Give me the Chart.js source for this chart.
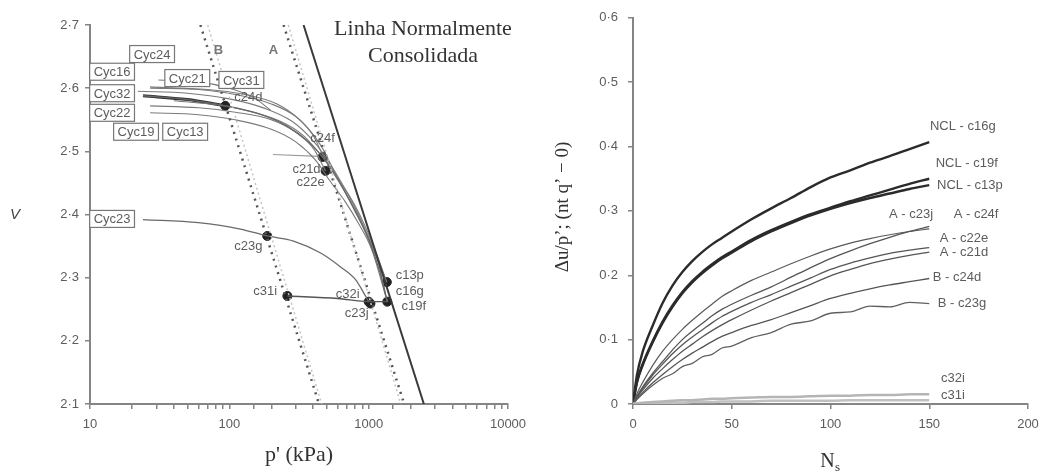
<!doctype html>
<html lang="pt">
<head>
<meta charset="utf-8">
<style>
  html, body { margin: 0; padding: 0; background: #fff; }
  #wrap { position: relative; width: 1048px; height: 475px; overflow: hidden; }
  #chartLeft { position: absolute; left: 0; top: 0; }
  #chartRight { position: absolute; left: 520px; top: 0; }
</style>
</head>
<body>
<div id="wrap">
  <canvas id="chartLeft" width="540" height="475"></canvas>
  <canvas id="chartRight" width="528" height="475"></canvas>
</div>
<script src="https://cdn.jsdelivr.net/npm/chart.js"></script>
<script>
// ---- left panel: v vs p' (log) ----
const nclLine = [[341, 2.7], [2490, 2.1]];
const lineA = [[245, 2.7], [1800, 2.1]];
const lineALight = [[265, 2.7], [1700, 2.1]];
const lineB = [[62, 2.7], [440, 2.1]];
const lineBLight = [[70, 2.7], [460, 2.1]];

const curve13 = [[27, 2.602], [60, 2.598], [110, 2.59], [200, 2.575], [300, 2.555], [400, 2.525], [467, 2.495], [600, 2.458], [780, 2.418], [950, 2.38], [1150, 2.335], [1350, 2.293]];
const curve32 = [[24, 2.588], [50, 2.582], [93.5, 2.572], [160, 2.56], [260, 2.54], [370, 2.515], [467, 2.491], [620, 2.45], [800, 2.405], [1000, 2.36], [1200, 2.31], [1360, 2.262]];
const curve21 = [[27, 2.572], [60, 2.569], [110, 2.562], [200, 2.55], [300, 2.53], [400, 2.505], [491, 2.469]];
const curve19 = [[27, 2.561], [60, 2.558], [110, 2.55], [200, 2.535], [300, 2.515], [420, 2.485], [520, 2.455], [680, 2.42], [850, 2.385], [1050, 2.345], [1360, 2.262]];
const curve31 = [[31, 2.613], [60, 2.61], [100, 2.6], [150, 2.585], [198, 2.565]];
const curve22 = [[27, 2.6], [70, 2.598], [130, 2.59], [220, 2.575], [320, 2.55], [420, 2.52], [480, 2.5], [560, 2.47], [700, 2.43], [900, 2.385], [1100, 2.34], [1350, 2.293]];
const curve24 = [[40, 2.58], [93.5, 2.572], [130, 2.565], [230, 2.548], [340, 2.525], [467, 2.491]];
const curve16 = [[22, 2.595], [50, 2.592], [100, 2.583], [180, 2.568], [280, 2.548], [380, 2.522], [480, 2.494], [620, 2.455], [780, 2.415], [950, 2.375], [1150, 2.33], [1360, 2.262]];
const thickStart = [[24, 2.588], [50, 2.582], [90, 2.573]];
const curve23 = [[24, 2.392], [60, 2.387], [120, 2.377], [187, 2.366], [289, 2.358], [452, 2.339], [629, 2.317], [805, 2.297], [921, 2.276], [1000, 2.262]];
const unload31 = [[261, 2.271], [600, 2.267], [1000, 2.262], [1360, 2.262]];
const unload22 = [[206, 2.495], [440, 2.492]];

const endPoints = [[93.5, 2.572], [467, 2.491], [491, 2.469], [187, 2.366], [261, 2.271], [1000, 2.262], [1030, 2.259], [1350, 2.293], [1360, 2.262]];

const pointLabels = [
  ['c24d', 137, 2.586], ['c24f', 467, 2.521], ['c21d', 358, 2.471], ['c22e', 383, 2.45],
  ['c23g', 137, 2.349], ['c31i', 181, 2.278], ['c32i', 706, 2.274], ['c23j', 820, 2.244],
  ['c13p', 1972, 2.304], ['c16g', 1972, 2.279], ['c19f', 2108, 2.254]
];
const boxLabels = [
  ['Cyc24', 27.9, 2.654], ['Cyc16', 14.4, 2.626], ['Cyc21', 49.9, 2.616], ['Cyc31', 122, 2.613],
  ['Cyc32', 14.4, 2.592], ['Cyc22', 14.4, 2.561], ['Cyc19', 21.4, 2.531], ['Cyc13', 48.2, 2.531],
  ['Cyc23', 14.4, 2.393]
];
const lineNames = [['B', 83.4, 2.66], ['A', 207, 2.66]];

// ---- right panel: du/p' vs Ns ----
const ns = [0, 2, 5, 10, 15, 20, 25, 30, 35, 40, 45, 50, 60, 70, 80, 90, 100, 110, 120, 130, 140, 150];
const c16g = [0, 0.045, 0.082, 0.122, 0.157, 0.184, 0.205, 0.222, 0.236, 0.248, 0.258, 0.268, 0.287, 0.304, 0.32, 0.337, 0.352, 0.363, 0.375, 0.385, 0.396, 0.407];
const c19f = [0, 0.035, 0.063, 0.098, 0.128, 0.153, 0.174, 0.191, 0.205, 0.217, 0.228, 0.237, 0.255, 0.27, 0.283, 0.295, 0.305, 0.315, 0.324, 0.333, 0.342, 0.35];
const c13p = [0, 0.033, 0.061, 0.096, 0.126, 0.151, 0.172, 0.189, 0.203, 0.215, 0.226, 0.235, 0.253, 0.268, 0.281, 0.293, 0.303, 0.312, 0.32, 0.327, 0.334, 0.34];
const c23j = [0, 0.016, 0.034, 0.06, 0.082, 0.1, 0.116, 0.13, 0.143, 0.155, 0.167, 0.176, 0.192, 0.205, 0.218, 0.23, 0.241, 0.25, 0.257, 0.263, 0.268, 0.272];
const c24f = [0, 0.012, 0.027, 0.048, 0.066, 0.084, 0.1, 0.113, 0.125, 0.137, 0.147, 0.155, 0.169, 0.182, 0.197, 0.212, 0.226, 0.238, 0.249, 0.259, 0.268, 0.276];
const c22e = [0, 0.011, 0.025, 0.045, 0.062, 0.078, 0.092, 0.104, 0.115, 0.126, 0.136, 0.144, 0.158, 0.17, 0.183, 0.196, 0.209, 0.219, 0.227, 0.234, 0.239, 0.243];
const c21d = [0, 0.01, 0.022, 0.04, 0.055, 0.069, 0.082, 0.093, 0.104, 0.114, 0.123, 0.131, 0.146, 0.16, 0.173, 0.186, 0.199, 0.209, 0.218, 0.225, 0.231, 0.236];
const c24d = [0, 0.008, 0.018, 0.033, 0.046, 0.058, 0.069, 0.079, 0.088, 0.097, 0.105, 0.111, 0.122, 0.131, 0.142, 0.153, 0.164, 0.172, 0.179, 0.185, 0.19, 0.195];
const c23g = [0, 0.007, 0.016, 0.029, 0.04, 0.047, 0.058, 0.063, 0.073, 0.077, 0.087, 0.09, 0.103, 0.111, 0.124, 0.129, 0.141, 0.143, 0.152, 0.151, 0.158, 0.156];
const c32i = [0, 0.001, 0.002, 0.003, 0.004, 0.005, 0.006, 0.006, 0.007, 0.008, 0.008, 0.009, 0.01, 0.011, 0.011, 0.012, 0.013, 0.013, 0.014, 0.014, 0.015, 0.015];
const c31i = [0, 0, 0.001, 0.001, 0.002, 0.002, 0.002, 0.003, 0.003, 0.003, 0.004, 0.004, 0.004, 0.005, 0.005, 0.005, 0.005, 0.006, 0.006, 0.006, 0.006, 0.006];

const seriesLabels = [
  ['NCL - c16g', 167, 0.431], ['NCL - c19f', 169, 0.373], ['NCL - c13p', 170.6, 0.34],
  ['A - c23j', 140.8, 0.295], ['A - c24f', 173.7, 0.295], ['A - c22e', 167.6, 0.258],
  ['A - c21d', 167.6, 0.236], ['B - c24d', 164, 0.196], ['B - c23g', 166.6, 0.157],
  ['c32i', 162, 0.04], ['c31i', 162, 0.014]
];

const GRAY = '#858585';
const TXT = '#5c5c5c';
const SANS = '"Liberation Sans", Arial, sans-serif';
const SERIF = '"Liberation Serif", "Times New Roman", serif';

function xy(arr) {
  return arr.map(([x, y]) => ({ x: x, y: y }));
}
function series(vals) {
  return ns.map((n, i) => ({ x: n, y: vals[i] }));
}
function dotted(v) {
  return v.toFixed(1).replace('.', '\u00b7');
}
function line(data, color, width, extra) {
  return Object.assign({ data: data, borderColor: color, borderWidth: width, showLine: true, pointRadius: 0, cubicInterpolationMode: 'monotone', fill: false }, extra || {});
}
function axis(size) {
  return {
    border: { display: true, color: GRAY, width: 2 },
    grid: { drawOnChartArea: false, drawTicks: true, tickLength: 5, color: GRAY, lineWidth: 1.5 },
    ticks: { color: TXT, font: { family: SANS, size: size }, maxRotation: 0, autoSkip: false }
  };
}

// left chart
const leftDecor = {
  id: 'leftDecor',
  afterDatasetsDraw(chart) {
    const { ctx, chartArea } = chart;
    const x = chart.scales.x, y = chart.scales.y;
    ctx.save();
    ctx.textAlign = 'center';
    ctx.textBaseline = 'middle';
    ctx.font = '13px ' + SANS;
    ctx.fillStyle = TXT;
    pointLabels.forEach(([t, p, v]) => ctx.fillText(t, x.getPixelForValue(p), y.getPixelForValue(v)));
    boxLabels.forEach(([t, p, v]) => {
      const px = x.getPixelForValue(p), py = y.getPixelForValue(v);
      const w = ctx.measureText(t).width + 8, h = 17;
      ctx.fillStyle = '#fff';
      ctx.fillRect(px - w / 2, py - h / 2, w, h);
      ctx.strokeStyle = '#777';
      ctx.lineWidth = 1.2;
      ctx.strokeRect(px - w / 2, py - h / 2, w, h);
      ctx.fillStyle = TXT;
      ctx.fillText(t, px, py + 1);
    });
    ctx.font = 'bold 13px ' + SANS;
    ctx.fillStyle = '#777';
    lineNames.forEach(([t, p, v]) => ctx.fillText(t, x.getPixelForValue(p), y.getPixelForValue(v)));
    ctx.fillStyle = '#333';
    ctx.font = '22px ' + SERIF;
    ctx.fillText('Linha Normalmente', 423, chartArea.top + 4);
    ctx.fillText('Consolidada', 423, chartArea.top + 31);
    ctx.fillText("p' (kPa)", (chartArea.left + chartArea.right) / 2, chartArea.bottom + 51);
    ctx.font = 'italic 15px ' + SANS;
    ctx.fillStyle = '#444';
    ctx.fillText('V', 15, (chartArea.top + chartArea.bottom) / 2);
    ctx.restore();
  }
};

const curveGray = '#7a7a7a';
new Chart(document.getElementById('chartLeft'), {
  type: 'scatter',
  data: {
    datasets: [
      line(xy(lineBLight), '#c4c4c4', 1.5, { borderDash: [2, 3] }),
      line(xy(lineB), '#555', 2.5, { borderDash: [2, 5] }),
      line(xy(lineALight), '#c4c4c4', 1.5, { borderDash: [2, 3] }),
      line(xy(lineA), '#555', 2.5, { borderDash: [2, 5] }),
      line(xy(nclLine), '#3a3a3a', 2),
      line(xy(curve13), curveGray, 1.1),
      line(xy(curve32), '#666', 1.3),
      line(xy(curve21), curveGray, 1.1),
      line(xy(curve19), curveGray, 1.1),
      line(xy(curve31), curveGray, 1.1),
      line(xy(curve22), curveGray, 1.1),
      line(xy(curve24), curveGray, 1.1),
      line(xy(curve16), curveGray, 1.1),
      line(xy(thickStart), '#333', 3),
      line(xy(curve23), '#6a6a6a', 1.3),
      line(xy(unload31), '#555', 1.3),
      line(xy(unload22), '#999', 1.2),
      { data: xy(endPoints), showLine: false, pointRadius: 4.5, pointBackgroundColor: '#222', pointBorderColor: '#222' }
    ]
  },
  options: {
    responsive: false,
    animation: false,
    layout: { padding: { top: 25, right: 32, left: 0, bottom: 0 } },
    plugins: { legend: { display: false }, tooltip: { enabled: false } },
    scales: {
      x: Object.assign(axis(13), {
        type: 'logarithmic', min: 10, max: 10000,
        afterFit: (s) => { s.height = 71; },
        ticks: Object.assign(axis(13).ticks, {
          padding: 8,
          callback: (v) => ([10, 100, 1000, 10000].includes(v) ? String(v) : '')
        })
      }),
      y: Object.assign(axis(13), {
        min: 2.1, max: 2.7,
        afterFit: (s) => { s.width = 90; },
        ticks: Object.assign(axis(13).ticks, { stepSize: 0.1, padding: 6, callback: (v) => dotted(v) })
      })
    }
  },
  plugins: [leftDecor]
});

// right chart
const rightDecor = {
  id: 'rightDecor',
  afterDatasetsDraw(chart) {
    const { ctx, chartArea } = chart;
    const x = chart.scales.x, y = chart.scales.y;
    ctx.save();
    ctx.textAlign = 'center';
    ctx.textBaseline = 'middle';
    ctx.font = '13px ' + SANS;
    ctx.fillStyle = TXT;
    seriesLabels.forEach(([t, n, v]) => ctx.fillText(t, x.getPixelForValue(n), y.getPixelForValue(v)));
    ctx.fillStyle = '#333';
    ctx.font = '20px ' + SERIF;
    const cx = (chartArea.left + chartArea.right) / 2;
    ctx.fillText('N', cx - 3, chartArea.bottom + 58);
    ctx.font = '13px ' + SERIF;
    ctx.fillText('s', cx + 7, chartArea.bottom + 64);
    ctx.translate(43, 207);
    ctx.rotate(-Math.PI / 2);
    ctx.font = '19px ' + SERIF;
    ctx.fillText('\u0394u/p\u2019; (nt q\u2019 \u2212 0)', 0, 0);
    ctx.restore();
  }
};

const nclColor = '#2b2b2b';
const thinColor = '#555';
new Chart(document.getElementById('chartRight'), {
  type: 'scatter',
  data: {
    datasets: [
      line(series(c32i), '#b5b5b5', 2.5),
      line(series(c31i), '#c0c0c0', 2.5),
      line(series(c23g), '#606060', 1.3),
      line(series(c24d), thinColor, 1.3),
      line(series(c21d), thinColor, 1.3),
      line(series(c22e), thinColor, 1.3),
      line(series(c24f), thinColor, 1.3),
      line(series(c23j), '#5a5a5a', 1.2),
      line(series(c13p), nclColor, 2.4),
      line(series(c19f), nclColor, 2.4),
      line(series(c16g), nclColor, 2.4)
    ]
  },
  options: {
    responsive: false,
    animation: false,
    layout: { padding: { top: 15, right: 20, left: 0, bottom: 0 } },
    plugins: { legend: { display: false }, tooltip: { enabled: false } },
    scales: {
      x: Object.assign(axis(13), {
        type: 'linear', min: 0, max: 200,
        afterFit: (s) => { s.height = 71; },
        ticks: Object.assign(axis(13).ticks, { stepSize: 50, padding: 8 })
      }),
      y: Object.assign(axis(13), {
        min: 0, max: 0.6,
        afterFit: (s) => { s.width = 113; },
        ticks: Object.assign(axis(13).ticks, { stepSize: 0.1, padding: 10, callback: (v) => (v === 0 ? '0' : dotted(v)) })
      })
    }
  },
  plugins: [rightDecor]
});
</script>
</body>
</html>
